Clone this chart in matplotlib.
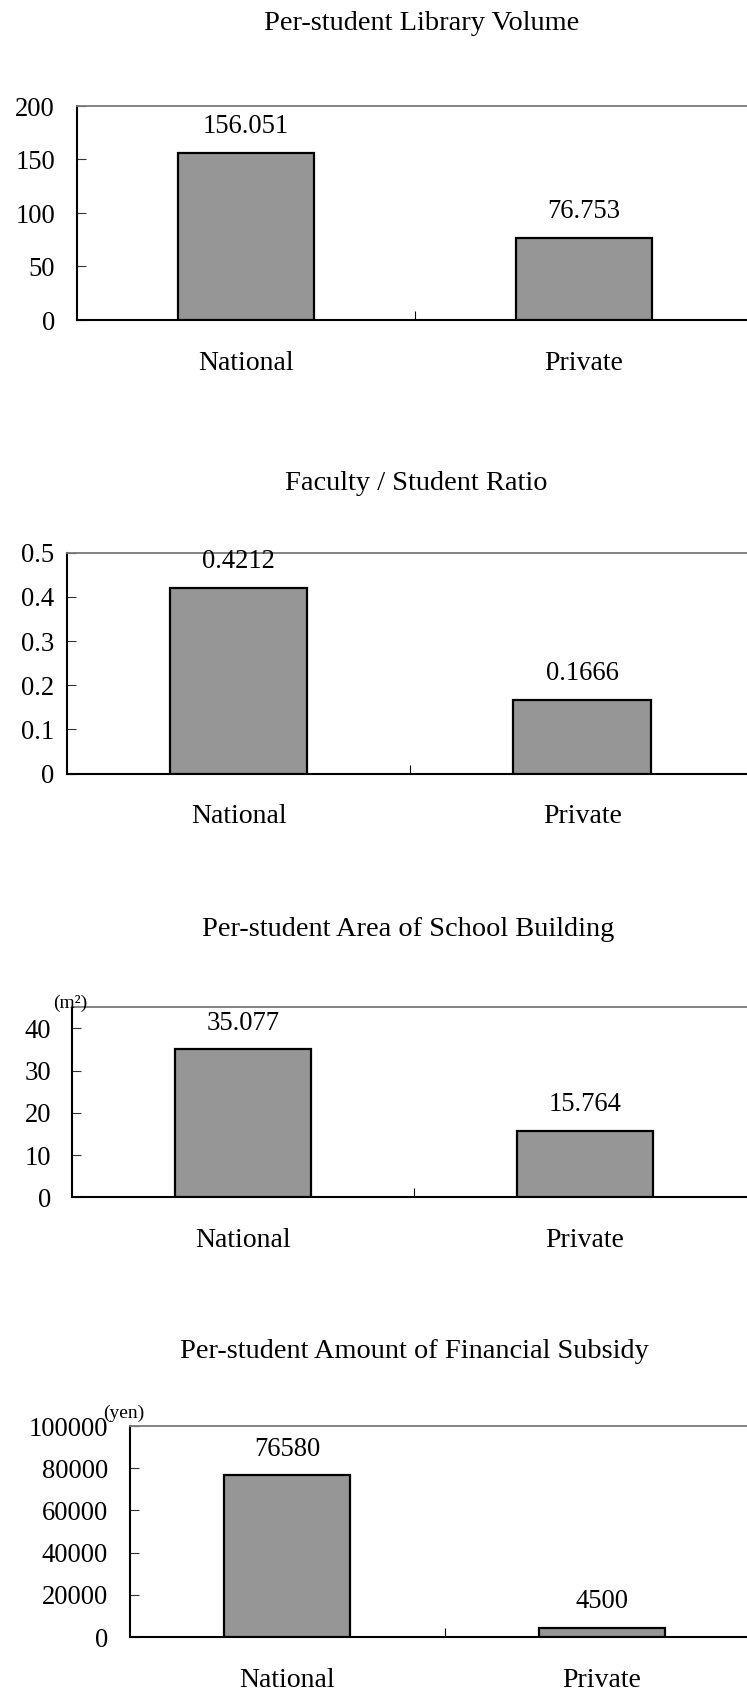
import matplotlib
matplotlib.use("Agg")
import matplotlib.pyplot as plt

plt.rcParams['font.family'] = ['Liberation Serif', 'DejaVu Serif']

categories = ["National", "Private"]

titles = ["Per-student Library Volume",
          "Faculty / Student Ratio",
          "Per-student Area of School Building",
          "Per-student Amount of Financial Subsidy"]

library_volume = [156.051, 76.753]
faculty_ratio = [0.4212, 0.1666]
building_area = [35.077, 15.764]
subsidy = [76580, 4500]

value_labels = [["156.051", "76.753"],
                ["0.4212", "0.1666"],
                ["35.077", "15.764"],
                ["76580", "4500"]]

yticks_list = [[0, 50, 100, 150, 200],
               [0, 0.1, 0.2, 0.3, 0.4, 0.5],
               [0, 10, 20, 30, 40],
               [0, 20000, 40000, 60000, 80000, 100000]]
ytick_labels = [["0", "50", "100", "150", "200"],
                ["0", "0.1", "0.2", "0.3", "0.4", "0.5"],
                ["0", "10", "20", "30", "40"],
                ["0", "20000", "40000", "60000", "80000", "100000"]]
ylims = [(0, 200), (0, 0.5), (0, 45), (0, 100000)]
units = [None, None, "(m²)", "(yen)"]

series = [library_volume, faculty_ratio, building_area, subsidy]

W, H = 747, 1692
fig = plt.figure(figsize=(W / 100, H / 100), dpi=100)

# axes boxes in pixels: left, right, top, bottom
boxes = [(77, 753, 106, 320),
         (66.7, 754, 552.7, 773.7),
         (72, 756, 1007.3, 1197.3),
         (130, 759, 1426, 1637)]
title_pos = [(422, 24), (416, 483), (408, 929), (414, 1351)]
ypads = [15.8, 9.0, 15.2, 15.8]
unit_pos = [(None), None, (70, 1003), (124, 1413)]

FS = 19.2
FS_LAB = 20.0
FS_TITLE = 20.4
bar_color = "#969696"

for i in range(4):
    l, r, t, b = boxes[i]
    ax = fig.add_axes([l / W, 1 - b / H, (r - l) / W, (b - t) / H])
    x = list(range(len(categories)))
    bars = ax.bar(x, series[i], width=0.4, color=bar_color,
                  edgecolor="black", linewidth=1.6, zorder=3)
    ax.set_xlim(-0.5, 1.5)
    ax.set_ylim(*ylims[i])
    ax.set_yticks(yticks_list[i])
    ax.set_yticklabels(ytick_labels[i], fontsize=FS)
    ax.set_xticks(x)
    ax.set_xticklabels(categories, fontsize=FS_LAB)
    ax.tick_params(axis='x', length=0, pad=22)
    ax.set_xticks([0.5], minor=True)
    ax.tick_params(axis='x', which='minor', direction='in', length=6.5,
                   width=0.8, color='black')
    ax.tick_params(axis='y', direction='in', length=6.5, width=0.8,
                   pad=ypads[i], color='#333333')
    for side in ['left', 'bottom']:
        ax.spines[side].set_color('black')
        ax.spines[side].set_linewidth(1.5)
    ax.spines['top'].set_color('#7a7a7a')
    ax.spines['top'].set_linewidth(1.3)
    ax.spines['right'].set_visible(False)
    for j, bar in enumerate(bars):
        ax.annotate(value_labels[i][j],
                    xy=(bar.get_x() + bar.get_width() / 2, bar.get_height()),
                    xytext=(0, 18.8), textcoords='offset points',
                    ha='center', va='center', fontsize=FS, zorder=4)
    tx, ty = title_pos[i]
    fig.text(tx / W, 1 - ty / H, titles[i], ha='center', va='center',
             fontsize=FS_TITLE)
    if units[i] is not None:
        ux, uy = unit_pos[i]
        fig.text(ux / W, 1 - uy / H, units[i], ha='center', va='center',
                 fontsize=14)

fig.savefig("out.png", dpi=100)
